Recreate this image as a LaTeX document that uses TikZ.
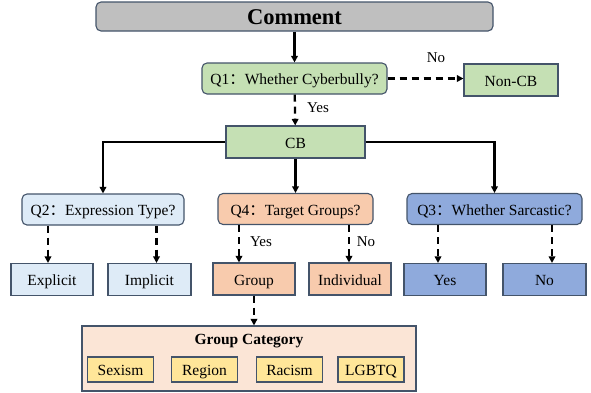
\documentclass[tikz,border=0pt]{standalone}
\usepackage{fontspec}
\setmainfont{Liberation Serif}
\newfontfamily\cjk{Noto Sans CJK SC}
\usetikzlibrary{arrows.meta}

\definecolor{edgeslate}{HTML}{44546A}
\definecolor{commentgray}{HTML}{BFBFBF}
\definecolor{cbgreen}{HTML}{C5E0B4}
\definecolor{exprblue}{HTML}{DEEBF7}
\definecolor{targetpeach}{HTML}{F8CBAD}
\definecolor{sarcblue}{HTML}{8FAADC}
\definecolor{catpeach}{HTML}{FBE5D6}
\definecolor{catyellow}{HTML}{FFE699}

\newcommand{\qcolon}{{\cjk ：}}

\begin{document}
\begin{tikzpicture}[x=1pt, y=-1pt, >={Triangle[length=6.5pt,width=6.5pt]},
  box/.style={draw=edgeslate, line width=1.1pt, inner sep=0pt, minimum height=32pt,
    text height=13pt, text depth=1pt, font=\fontsize{15.5}{17}\selectfont},
  qbox/.style={box, rounded corners=5pt, minimum height=31pt},
  solidarr/.style={->, line width=2.3pt},
  dasharr/.style={->, line width=2.3pt, dash pattern=on 7pt off 5pt},
  edgelbl/.style={font=\fontsize{15}{17}\selectfont}]

  \useasboundingbox (0,0) rectangle (591,392);

  % Comment and first question
  \node[qbox, fill=commentgray, minimum width=397pt, minimum height=29pt, text height=16pt, text depth=1pt,
    font=\fontsize{22.5}{24}\selectfont\bfseries] (comment) at (294.5,16.5) {Comment};
  \node[qbox, fill=cbgreen, minimum width=185pt] (qone) at (294.5,78.5) {Q1\qcolon Whether Cyberbully?};
  \node[box, fill=cbgreen, minimum width=94pt] (noncb) at (511,80) {Non-CB};
  \node[box, fill=cbgreen, minimum width=139pt] (cb) at (295.5,142) {CB};

  \draw[solidarr] (comment) -- (qone);
  \draw[dasharr] (qone.east) -- (qone.east -| noncb.west);
  \node[edgelbl] (lblno) at (436,58) {No};
  \draw[dasharr] (qone) -- (cb);
  \node[edgelbl] (lblyes) at (318,108) {Yes};

  % Second level questions
  \node[qbox, fill=exprblue, minimum width=162pt] (qtwo) at (103,209.5) {Q2\qcolon Expression Type?};
  \node[qbox, fill=targetpeach, minimum width=155pt] (qfour) at (295.5,209) {Q4\qcolon Target Groups?};
  \node[qbox, fill=sarcblue, minimum width=175pt] (qthree) at (494.5,209) {Q3\qcolon Whether Sarcastic?};

  \draw[solidarr] (cb.west) -| (qtwo.north);
  \draw[solidarr] (cb) -- (qfour);
  \draw[solidarr] (cb.east) -| (qthree.north);

  % Answers
  \node[box, fill=exprblue, minimum width=82pt] (explicit) at (52,279.5) {Explicit};
  \node[box, fill=exprblue, minimum width=83pt] (implicit) at (149.5,279.5) {Implicit};
  \node[box, fill=targetpeach, minimum width=82pt] (group) at (254,279) {Group};
  \node[box, fill=targetpeach, minimum width=82pt] (individual) at (350,279) {Individual};
  \node[box, fill=sarcblue, minimum width=82pt] (sarcyes) at (445,279.5) {Yes};
  \node[box, fill=sarcblue, minimum width=83pt] (sarcno) at (544.5,279.5) {No};

  \draw[dasharr] ([xshift=-4]qtwo.south -| explicit.north) -- ([xshift=-4]explicit.north);
  \draw[dasharr] ([xshift=7]qtwo.south -| implicit.north) -- ([xshift=7]implicit.north);
  \draw[dasharr] ([xshift=-15]qfour.south -| group.north) -- ([xshift=-15]group.north);
  \node[edgelbl] (lblgyes) at (261,242) {Yes};
  \draw[dasharr] ([xshift=-1]qfour.south -| individual.north) -- ([xshift=-1]individual.north);
  \node[edgelbl] (lblgno) at (366,242) {No};
  \draw[dasharr] ([xshift=-7]qthree.south -| sarcyes.north) -- ([xshift=-7]sarcyes.north);
  \draw[dasharr] ([xshift=7.5]qthree.south -| sarcno.north) -- ([xshift=7.5]sarcno.north);

  % Group category
  \node[box, fill=catpeach, minimum width=334pt, minimum height=65pt] (category) at (249,358.5) {};
  \node[font=\fontsize{15.5}{17}\selectfont\bfseries] (cattitle) at (249,341) {Group Category};
  \foreach \nm/\cx/\txt in {sexism/120.5/Sexism, region/204.5/Region, racism/289.5/Racism, lgbtq/371/LGBTQ}
    \node[box, fill=catyellow, minimum width=66pt, minimum height=25pt, text height=12pt] (\nm) at (\cx,369.5) {\txt};

  \draw[dasharr] (group.south) -- (group.south |- category.north);

\end{tikzpicture}
\end{document}
